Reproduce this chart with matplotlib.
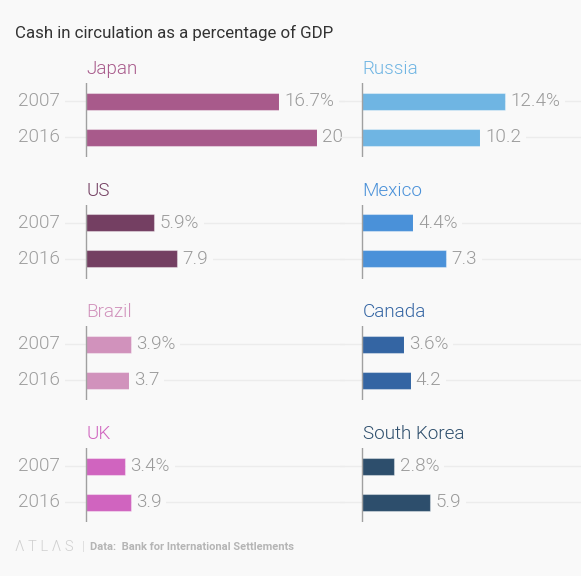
import matplotlib
matplotlib.use("Agg")
import matplotlib.pyplot as plt

plt.rcParams['font.family'] = ['Roboto', 'DejaVu Sans']

# data, in reading order (left column, right column)
countries = ["Japan", "Russia", "US", "Mexico", "Brazil", "Canada", "UK", "South Korea"]
years = ["2007", "2016"]
cash_2007 = [16.7, 12.4, 5.9, 4.4, 3.9, 3.6, 3.4, 2.8]
cash_2016 = [20, 10.2, 7.9, 7.3, 3.7, 4.2, 3.9, 5.9]
colors = ["#a85a8b", "#6fb5e3", "#743f62", "#4a91d9",
          "#d192bc", "#3465a3", "#d064bf", "#2d4e6c"]

BG = "#f9f9f9"
W, H = 581, 576
PX = 11.55  # pixels per percentage point

fig = plt.figure(figsize=(W / 100, H / 100), dpi=100, facecolor=BG)

fig.text(15 / W, 1 - 33 / H, "Cash in circulation as a percentage of GDP",
         fontsize=12.2, color="#333333", va="center", ha="left")


def add_panel(i):
    row, col = divmod(i, 2)
    top = 83 + row * 121.7
    height = 74
    if col == 0:
        left, right, axis_x = 65, 345, 86
    else:
        left, right, axis_x = 340, 581, 362
    ax = fig.add_axes([left / W, 1 - (top + height) / H, (right - left) / W, height / H])
    ax.patch.set_visible(False)
    ax.set_xlim((left - axis_x) / PX, (right - axis_x) / PX)
    ax.set_ylim(height, 0)
    for s in ax.spines.values():
        s.set_visible(False)
    ax.set_xticks([])
    ax.set_yticks([])

    ypos = [18, 54]
    vals = [cash_2007[i], cash_2016[i]]
    for y in ypos:
        ax.axhline(y, color="#ececec", lw=1, zorder=0)
    ax.barh(ypos, vals, height=17, color=colors[i], edgecolor="#ffffff60",
            lw=0.8, zorder=2)
    ax.axvline(0, color="#a0a0a0", lw=1, zorder=3)

    for j, (y, v) in enumerate(zip(ypos, vals)):
        label = f"{v:g}%" if j == 0 else f"{v:g}"
        ax.text(v + 0.45, y, label, fontsize=13.6, color="#9a9a9a", va="center",
                ha="left", zorder=4, fontweight=300, clip_on=False,
                bbox=dict(boxstyle="square,pad=0.25", fc=BG, ec="none"))
        if col == 0:
            ax.text(-26 / PX, y, years[j], fontsize=13.6, color="#9d9d9d",
                    va="center", ha="right", fontweight=300, clip_on=False)

    ax.text(0.05, -9, countries[i], fontsize=13.6, color=colors[i],
            va="baseline", ha="left", fontweight=300, clip_on=False)


for i in range(len(countries)):
    add_panel(i)

# footer
fig.text(15 / W, 1 - 547 / H, "\u039b T L \u039b S", fontsize=10.5, color="#cfcfcf",
         va="center", ha="left", fontweight=300)
fig.text(82 / W, 1 - 547 / H, "|", fontsize=9, color="#dddddd", va="center", ha="left")
fig.text(90 / W, 1 - 547 / H, "Data:  Bank for International Settlements",
         fontsize=8, color="#b5b5b5", fontweight="bold", va="center", ha="left")

fig.savefig("out.png", dpi=100, facecolor=BG)
